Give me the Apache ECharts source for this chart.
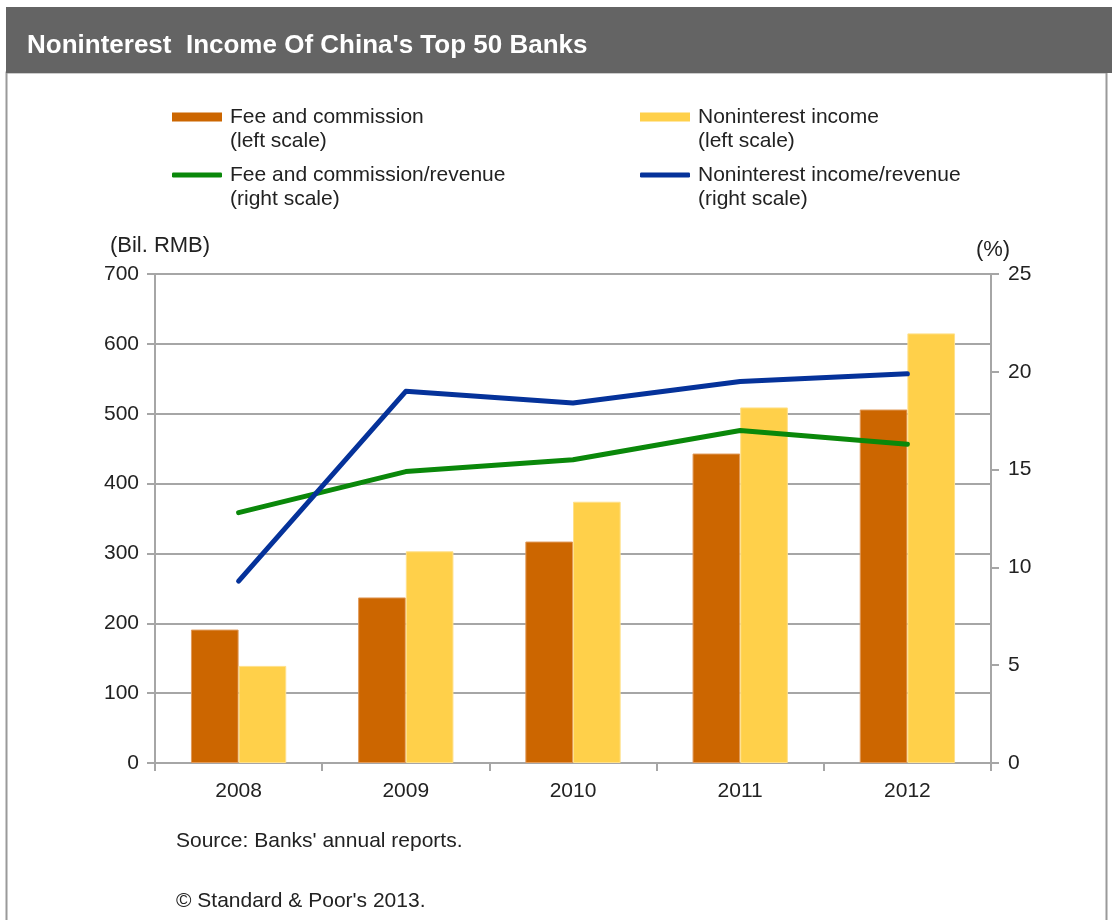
<!DOCTYPE html>
<html>
<head>
<meta charset="utf-8">
<script src="https://cdn.jsdelivr.net/npm/echarts@6/dist/echarts.min.js"></script>
<style>
  html, body { margin: 0; padding: 0; background: #ffffff; }
  #chart { width: 1112px; height: 920px; }
</style>
</head>
<body>
<div id="chart"></div>
<script>
// Years shown on the category axis
const years = ['2008', '2009', '2010', '2011', '2012'];

// Bar series, billions of RMB (left axis)
const feeCommission = [191, 237, 317, 443, 506];
const nonInterestIncome = [139, 303, 374, 509, 615];

// Line series, percent of revenue (right axis)
const feeRevenueShare = [12.8, 14.9, 15.5, 17.0, 16.3];
const nonInterestRevenueShare = [9.3, 19.0, 18.4, 19.5, 19.9];

// Axis ranges and tick spacing
const leftAxis = { min: 0, max: 700, interval: 100 };
const rightAxis = { min: 0, max: 25, interval: 5 };

const FONT = '"Liberation Sans", Arial, sans-serif';
const TEXT = '#222222';
const GRID = '#a6a6a6';
const FS = 21;

const chart = echarts.init(document.getElementById('chart'), null, { renderer: 'canvas' });

// One legend block per series; a blank leading line keeps the first
// label line level with the key while the second line hangs below it
function legendBlock(name, left, top, icon, h) {
  return {
    data: [name],
    left: left,
    top: top,
    orient: 'vertical',
    icon: icon,
    itemWidth: 50,
    itemHeight: h,
    itemGap: 0,
    selectedMode: false,
    itemStyle: { borderWidth: 0 },
    formatter: function (n) { return '\n' + n; },
    textStyle: {
      fontFamily: FONT,
      fontSize: FS,
      color: TEXT,
      lineHeight: 24,
      padding: [0, 0, 0, 3]
    }
  };
}

const option = {
  backgroundColor: '#ffffff',
  animation: false,
  title: {
    text: "Noninterest  Income Of China's Top 50 Banks",
    left: 22,
    top: 28,
    textStyle: { fontFamily: FONT, fontSize: 26, fontWeight: 'bold', color: '#ffffff' }
  },
  graphic: [
    {
      type: 'rect', z: -1, silent: true,
      shape: { x: 6.5, y: 72.5, width: 1100, height: 900 },
      style: { fill: '#ffffff', stroke: '#9a9a9a', lineWidth: 2 }
    },
    {
      type: 'rect', z: 0, silent: true,
      shape: { x: 6, y: 7, width: 1106, height: 66 },
      style: { fill: '#646464' }
    },
    {
      type: 'text', left: 176, top: 831,
      style: { text: "Source: Banks' annual reports.", fontFamily: FONT, fontSize: FS, fill: TEXT }
    },
    {
      type: 'text', left: 176, top: 891,
      style: { text: "\u00a9 Standard & Poor's 2013.", fontFamily: FONT, fontSize: FS, fill: TEXT }
    }
  ],
  legend: [
    legendBlock('Fee and commission\n(left scale)', 167, 76, 'rect', 9),
    legendBlock('Noninterest income\n(left scale)', 635, 76, 'rect', 9),
    legendBlock('Fee and commission/revenue\n(right scale)', 167, 134, 'roundRect', 5),
    legendBlock('Noninterest income/revenue\n(right scale)', 635, 134, 'roundRect', 5)
  ],
  grid: { left: 155, right: 121, top: 274, bottom: 157, containLabel: false },
  xAxis: {
    type: 'category',
    data: years,
    axisLine: { lineStyle: { color: GRID, width: 2 } },
    axisTick: { show: true, length: 8, lineStyle: { color: GRID, width: 2 } },
    axisLabel: { fontFamily: FONT, fontSize: FS, color: TEXT, margin: 18 }
  },
  yAxis: [
    {
      type: 'value',
      min: leftAxis.min, max: leftAxis.max, interval: leftAxis.interval,
      name: '(Bil. RMB)',
      nameLocation: 'end',
      nameGap: 17,
      nameTextStyle: { fontFamily: FONT, fontSize: 22, color: TEXT, align: 'center', padding: [0, 0, 0, 10] },
      axisLine: { show: true, lineStyle: { color: GRID, width: 2 } },
      axisTick: { show: true, length: 8, lineStyle: { color: GRID, width: 2 } },
      axisLabel: { fontFamily: FONT, fontSize: FS, color: TEXT, margin: 16 },
      splitLine: { show: true, lineStyle: { color: GRID, width: 2 } }
    },
    {
      type: 'value',
      position: 'right',
      min: rightAxis.min, max: rightAxis.max, interval: rightAxis.interval,
      name: '(%)',
      nameLocation: 'end',
      nameGap: 13,
      nameTextStyle: { fontFamily: FONT, fontSize: 22, color: TEXT, align: 'center', padding: [0, 0, 0, 4] },
      axisLine: { show: true, lineStyle: { color: GRID, width: 2 } },
      axisTick: { show: true, length: 8, lineStyle: { color: GRID, width: 2 } },
      axisLabel: { fontFamily: FONT, fontSize: FS, color: TEXT, margin: 17 },
      splitLine: { show: false }
    }
  ],
  series: [
    {
      name: 'Fee and commission\n(left scale)',
      type: 'bar',
      yAxisIndex: 0,
      data: feeCommission,
      barGap: '0%',
      barCategoryGap: '43%',
      itemStyle: { color: '#cc6600', borderColor: '#e09a5a', borderWidth: 1 }
    },
    {
      name: 'Noninterest income\n(left scale)',
      type: 'bar',
      yAxisIndex: 0,
      data: nonInterestIncome,
      barGap: '0%',
      barCategoryGap: '43%',
      itemStyle: { color: '#ffd04a', borderColor: '#ffe08a', borderWidth: 1 }
    },
    {
      name: 'Fee and commission/revenue\n(right scale)',
      type: 'line',
      yAxisIndex: 1,
      data: feeRevenueShare,
      symbol: 'none',
      z: 3,
      lineStyle: { color: '#0a880a', width: 5, cap: 'round', join: 'round' },
      itemStyle: { color: '#0a880a' }
    },
    {
      name: 'Noninterest income/revenue\n(right scale)',
      type: 'line',
      yAxisIndex: 1,
      data: nonInterestRevenueShare,
      symbol: 'none',
      z: 4,
      lineStyle: { color: '#05329a', width: 5, cap: 'round', join: 'round' },
      itemStyle: { color: '#05329a' }
    }
  ]
};

chart.setOption(option);
</script>
</body>
</html>
